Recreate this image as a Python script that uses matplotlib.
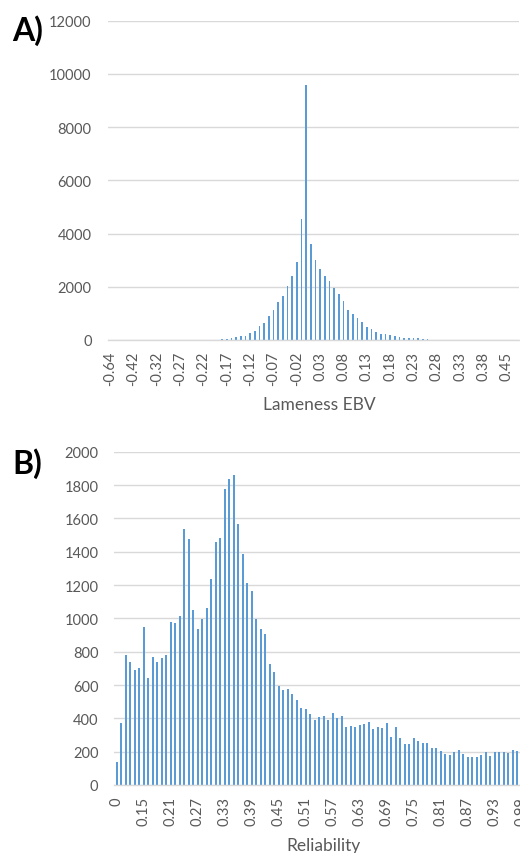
import matplotlib
matplotlib.use("Agg")
import matplotlib.pyplot as plt
import numpy as np

# ---------------- Data ----------------
# Panel A: Lameness EBV distribution
ebv_categories = [
    '-0.64', '-0.58', '-0.53', '-0.48', '-0.45', '-0.42', '-0.39', '-0.37', '-0.35', '-0.34',
    '-0.32', '-0.31', '-0.3', '-0.29', '-0.28', '-0.27', '-0.26', '-0.25', '-0.24', '-0.23',
    '-0.22', '-0.21', '-0.2', '-0.19', '-0.18', '-0.17', '-0.16', '-0.15', '-0.14', '-0.13',
    '-0.12', '-0.11', '-0.1', '-0.09', '-0.08', '-0.07', '-0.06', '-0.05', '-0.04', '-0.03',
    '-0.02', '-0.01', '0', '0.01', '0.02', '0.03', '0.04', '0.05', '0.06', '0.07',
    '0.08', '0.09', '0.1', '0.11', '0.12', '0.13', '0.14', '0.15', '0.16', '0.17',
    '0.18', '0.19', '0.2', '0.21', '0.22', '0.23', '0.24', '0.25', '0.26', '0.27',
    '0.28', '0.29', '0.3', '0.31', '0.32', '0.33', '0.34', '0.35', '0.36', '0.37',
    '0.38', '0.39', '0.4', '0.41', '0.43', '0.45', '0.47', '0.51',
]
ebv_counts = [
    1, 1, 1, 1, 1, 1, 2, 1, 2, 3,
    2, 3, 2, 4, 3, 5, 4, 6, 5, 7, 8, 9, 10, 12,
    40, 40, 60, 100, 140, 165, 260, 340, 540, 650, 900, 1125, 1410, 1650,
    2040, 2390, 2950, 4550, 9600,
    3625, 3025, 2650, 2390, 2210, 1950, 1725, 1475, 1140, 975, 810, 675, 500,
    400, 310, 240, 210, 200, 140, 110, 90, 75, 75, 60, 40, 25,
    12, 10, 8, 7, 6, 5, 4, 4, 3, 3, 2, 2, 2, 1, 1, 1, 1, 1, 1,
]
ebv_yticks = [0, 2000, 4000, 6000, 8000, 10000, 12000]

# Panel B: Reliability distribution
rel_categories = [
    '0', '0.1', '0.11', '0.12', '0.13', '0.14', '0.15', '0.16', '0.17', '0.18',
    '0.19', '0.2', '0.21', '0.22', '0.23', '0.24', '0.25', '0.26', '0.27', '0.28',
    '0.29', '0.3', '0.31', '0.32', '0.33', '0.34', '0.35', '0.36', '0.37', '0.38',
    '0.39', '0.4', '0.41', '0.42', '0.43', '0.44', '0.45', '0.46', '0.47', '0.48',
    '0.49', '0.5', '0.51', '0.52', '0.53', '0.54', '0.55', '0.56', '0.57', '0.58',
    '0.59', '0.6', '0.61', '0.62', '0.63', '0.64', '0.65', '0.66', '0.67', '0.68',
    '0.69', '0.7', '0.71', '0.72', '0.73', '0.74', '0.75', '0.76', '0.77', '0.78',
    '0.79', '0.8', '0.81', '0.82', '0.83', '0.84', '0.85', '0.86', '0.87', '0.88',
    '0.89', '0.9', '0.91', '0.92', '0.93', '0.94', '0.95', '0.96', '0.97', '0.98',
    '0.99',
]
rel_counts = [
    140, 370, 780, 740, 690, 705, 948, 640, 766, 736,
    760, 780, 980, 972, 1012, 1536, 1476, 1052, 936, 996,
    1064, 1236, 1460, 1482, 1776, 1836, 1862, 1564, 1384, 1212,
    1162, 996, 934, 906, 726, 676, 592, 570, 576, 546,
    510, 460, 458, 424, 390, 408, 416, 388, 432, 400,
    416, 350, 354, 350, 360, 366, 376, 336, 348, 344,
    372, 288, 348, 284, 244, 244, 284, 264, 252, 252,
    220, 220, 204, 188, 180, 200, 208, 188, 170, 166,
    170, 180, 196, 176, 196, 196, 196, 190, 208, 206,
    205,
]
rel_yticks = [0, 200, 400, 600, 800, 1000, 1200, 1400, 1600, 1800, 2000]

# ---------------- Style ----------------
FONT = ['Lato', 'DejaVu Sans']
plt.rcParams['font.family'] = FONT
BAR = '#5B9BD5'
GRID = '#D9D9D9'
TXT = '#595959'

W, H = 520, 854
fig = plt.figure(figsize=(W / 100, H / 100), dpi=100)


def px_axes(left, top, bottom, width_px):
    return fig.add_axes([left / W, 1 - bottom / H, width_px / W, (bottom - top) / H])


def style(ax, yticks, every, xlabel, label_xy):
    ax.set_yticks(yticks)
    ax.set_yticklabels([str(v) for v in yticks])
    ax.set_ylim(yticks[0], yticks[-1])
    ax.yaxis.grid(True, color=GRID, lw=1.0)
    ax.set_axisbelow(True)
    for s in ['top', 'right', 'left']:
        ax.spines[s].set_visible(False)
    ax.spines['bottom'].set_color(GRID)
    ax.spines['bottom'].set_linewidth(1.0)
    ax.tick_params(axis='y', length=0, pad=11.5, labelsize=10.5, labelcolor=TXT)
    ax.tick_params(axis='x', length=0, pad=8, labelsize=10.5, labelcolor=TXT,
                   labelrotation=90)
    ax.set_xlabel(xlabel, fontsize=12.5, color=TXT, va='center')
    ax.xaxis.set_label_coords(*label_xy)


# Panel A
n_a = len(ebv_categories)
ax1 = px_axes(107.7, 21.7, 341, n_a * 4.67)
x_a = np.arange(n_a)
ax1.bar(x_a, ebv_counts, width=0.38, color=BAR, linewidth=0)
ax1.set_xlim(-0.5, n_a - 0.5)
ax1.set_xticks(x_a[::5])
ax1.set_xticklabels(ebv_categories[::5])
style(ax1, ebv_yticks, 5, 'Lameness EBV', (0.515, -0.2))

# Panel B
n_b = len(rel_categories)
ax2 = px_axes(114.45, 452.7, 786, (n_b + 1) * 4.5)
x_b = np.arange(n_b)
ax2.bar(x_b, rel_counts, width=0.38, color=BAR, linewidth=0)
ax2.set_xlim(-0.5, n_b + 0.5)
ax2.set_xticks(x_b[::6])
ax2.set_xticklabels(rel_categories[::6])
style(ax2, rel_yticks, 6, 'Reliability', (0.505, -0.18))

fig.text(12 / W, 1 - 15 / H, 'A)', fontsize=23, fontweight='bold', color='black',
         ha='left', va='top')
fig.text(12 / W, 1 - 448 / H, 'B)', fontsize=23, fontweight='bold', color='black',
         ha='left', va='top')

fig.savefig('out.png', dpi=100)
